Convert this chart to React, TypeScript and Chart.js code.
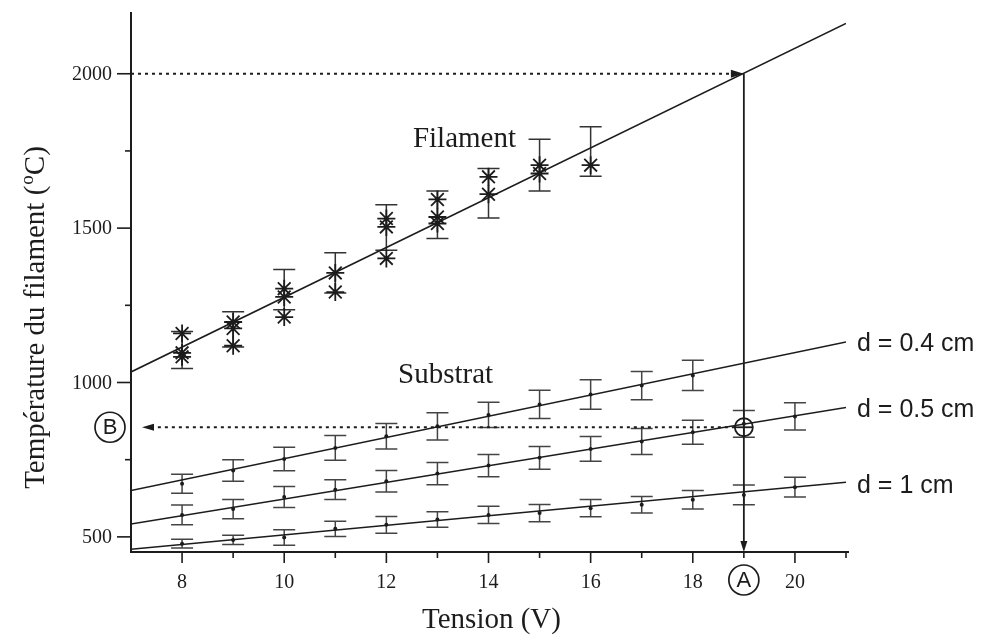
import React, { useEffect, useRef } from 'react';
import { Chart, registerables } from 'chart.js';

Chart.register(...registerables);

// ---------- data ----------
const xMinV = 7;
const xMaxV = 21;
const yMinT = 451;
const yMaxT = 2200;

const xLabelTicks = [8, 10, 12, 14, 16, 18, 20];
const xMinorTicks = [9, 11, 13, 15, 17, 19, 21];
const yLabelTicks = [500, 1000, 1500, 2000];
const yMinorTicks = [750, 1250, 1750];

// Filament: individual measurements (stars)
const starV = [8, 8, 8, 9, 9, 9, 10, 10, 10, 11, 11, 12, 12, 12, 13, 13, 13, 14, 14, 15, 15, 16];
const starT = [1159, 1096, 1083, 1196, 1175, 1119, 1304, 1277, 1212, 1355, 1293, 1531, 1504, 1402, 1593, 1536, 1515, 1666, 1610, 1704, 1677, 1704];

// Filament error bars
const filV = [8, 9, 10, 11, 12, 13, 14, 15, 16];
const filMean = [1105, 1172, 1301, 1355, 1502, 1543, 1613, 1704, 1748];
const filErr = [60, 57, 65, 65, 74, 77, 80, 84, 80];

// Substrat
const d04V = [8, 9, 10, 11, 12, 13, 14, 15, 16, 17, 18];
const d04T = [672, 715, 752, 788, 826, 858, 895, 929, 961, 990, 1023];
const d04Err = [31, 35, 38, 40, 41, 44, 41, 46, 48, 46, 49];

const d05V = [8, 9, 10, 11, 12, 13, 14, 15, 16, 17, 18, 19, 20];
const d05T = [571, 590, 629, 653, 680, 705, 731, 756, 785, 809, 839, 866, 890];
const d05Err = [32, 31, 34, 32, 35, 36, 36, 37, 40, 42, 39, 43, 44];

const d1V = [8, 9, 10, 11, 12, 13, 14, 15, 16, 17, 18, 19, 20];
const d1T = [478, 490, 498, 526, 539, 556, 571, 577, 593, 604, 620, 636, 661];
const d1Err = [14, 15, 25, 25, 27, 25, 28, 28, 28, 27, 30, 32, 32];

// Fitted lines (end points in data units)
const fitV = [7, 21];
const fitFilament = [1034, 2163];
const fitD04 = [650, 1131];
const fitD05 = [542, 919];
const fitD1 = [460, 677];

const lineLabels = ['d = 0.4 cm', 'd = 0.5 cm', 'd = 1 cm'];

// Graphical reading (A / B)
const readV = 19;
const readFilT = 2000;
const readSubT = 855;

// Text labels positions (data units)
const filamentLabel = { text: 'Filament', v: 12.52, t: 1762 };
const substratLabel = { text: 'Substrat', v: 12.23, t: 999 };

const SERIF = '"Liberation Serif", "Times New Roman", serif';
const SANS = '"Liberation Sans", Arial, sans-serif';
const INK = '#1c1c1c';

const pts = (xs: number[], ys: number[]) => xs.map((x, i) => ({ x, y: ys[i] }));

const overlay = {
  id: 'overlay',
  beforeDatasetsDraw(chart: any) {
    const { ctx, chartArea: a, scales } = chart;
    const x = scales.x, y = scales.y;
    ctx.save();
    ctx.beginPath();
    ctx.rect(a.left, a.top, a.right - a.left, a.bottom - a.top);
    ctx.clip();
    const bars = (vs: number[], ms: number[], es: number[], color: string) => {
      ctx.strokeStyle = color;
      ctx.lineWidth = 1.5;
      vs.forEach((v, i) => {
        const px = x.getPixelForValue(v);
        const top = y.getPixelForValue(ms[i] + es[i]);
        const bot = y.getPixelForValue(ms[i] - es[i]);
        ctx.beginPath();
        ctx.moveTo(px, top);
        ctx.lineTo(px, bot);
        ctx.moveTo(px - 11, top);
        ctx.lineTo(px + 11, top);
        ctx.moveTo(px - 11, bot);
        ctx.lineTo(px + 11, bot);
        ctx.stroke();
      });
    };
    bars(filV, filMean, filErr, '#333');
    bars(d04V, d04T, d04Err, '#444');
    bars(d05V, d05T, d05Err, '#444');
    bars(d1V, d1T, d1Err, '#444');
    ctx.restore();
  },
  afterDatasetsDraw(chart: any) {
    const { ctx, chartArea: a, scales } = chart;
    const x = scales.x, y = scales.y;
    ctx.save();
    ctx.fillStyle = INK;
    ctx.strokeStyle = INK;

    // axes
    ctx.lineWidth = 2;
    ctx.beginPath();
    ctx.moveTo(a.left, a.top);
    ctx.lineTo(a.left, a.bottom);
    ctx.lineTo(a.right + 3, a.bottom);
    ctx.stroke();

    // x ticks
    ctx.lineWidth = 1.6;
    xLabelTicks.forEach((v) => {
      const px = x.getPixelForValue(v);
      ctx.beginPath();
      ctx.moveTo(px, a.bottom);
      ctx.lineTo(px, a.bottom + 11);
      ctx.stroke();
    });
    xMinorTicks.forEach((v) => {
      const px = x.getPixelForValue(v);
      ctx.beginPath();
      ctx.moveTo(px, a.bottom - 1);
      ctx.lineTo(px, a.bottom + 6);
      ctx.stroke();
    });
    // y ticks
    yLabelTicks.forEach((t) => {
      const py = y.getPixelForValue(t);
      ctx.beginPath();
      ctx.moveTo(a.left, py);
      ctx.lineTo(a.left - 14, py);
      ctx.stroke();
    });
    yMinorTicks.forEach((t) => {
      const py = y.getPixelForValue(t);
      ctx.beginPath();
      ctx.moveTo(a.left + 1, py);
      ctx.lineTo(a.left - 6, py);
      ctx.stroke();
    });

    // tick labels
    ctx.font = '20px ' + SERIF;
    ctx.textAlign = 'center';
    ctx.textBaseline = 'middle';
    xLabelTicks.forEach((v) => {
      ctx.fillText(String(v), x.getPixelForValue(v), a.bottom + 31);
    });
    ctx.textAlign = 'right';
    yLabelTicks.forEach((t) => {
      ctx.fillText(String(t), a.left - 19, y.getPixelForValue(t) + 1);
    });

    // axis titles
    ctx.font = '29px ' + SERIF;
    ctx.textAlign = 'center';
    ctx.textBaseline = 'alphabetic';
    ctx.fillText('Tension (V)', (a.left + a.right) / 2 + 3, a.bottom + 76);

    const big = '29px ' + SERIF;
    const small = '19px ' + SERIF;
    const p1 = 'Température du filament (';
    const p2 = 'o';
    const p3 = 'C)';
    ctx.font = big;
    const w1 = ctx.measureText(p1).width;
    const w3 = ctx.measureText(p3).width;
    ctx.font = small;
    const w2 = ctx.measureText(p2).width;
    ctx.save();
    ctx.translate(44, 318);
    ctx.rotate(-Math.PI / 2);
    ctx.textAlign = 'left';
    let s = -(w1 + w2 + w3) / 2;
    ctx.font = big;
    ctx.fillText(p1, s, 0);
    s += w1;
    ctx.font = small;
    ctx.fillText(p2, s + 1, -11);
    s += w2 + 1;
    ctx.font = big;
    ctx.fillText(p3, s, 0);
    ctx.restore();

    // in-plot labels
    ctx.font = '29px ' + SERIF;
    ctx.textAlign = 'left';
    ctx.textBaseline = 'alphabetic';
    ctx.fillText(filamentLabel.text, x.getPixelForValue(filamentLabel.v), y.getPixelForValue(filamentLabel.t));
    ctx.fillText(substratLabel.text, x.getPixelForValue(substratLabel.v), y.getPixelForValue(substratLabel.t));

    ctx.font = '25px ' + SANS;
    ctx.textBaseline = 'middle';
    [fitD04, fitD05, fitD1].forEach((f, i) => {
      ctx.fillText(lineLabels[i], a.right + 11, y.getPixelForValue(f[1]) + 2 + i);
    });

    // reading construction
    const pxR = x.getPixelForValue(readV);
    const pyF = y.getPixelForValue(readFilT);
    const pyS = y.getPixelForValue(readSubT);

    // dotted horizontal at filament temperature, arrow to the right
    ctx.lineWidth = 2;
    ctx.setLineDash([3, 4]);
    ctx.beginPath();
    ctx.moveTo(a.left, pyF);
    ctx.lineTo(pxR - 12, pyF);
    ctx.stroke();
    // dotted horizontal at substrate temperature, arrow to the left
    ctx.beginPath();
    ctx.moveTo(pxR - 9, pyS);
    ctx.lineTo(a.left + 23, pyS);
    ctx.stroke();
    ctx.setLineDash([]);

    const tri = (x1: number, y1: number, x2: number, y2: number, x3: number, y3: number) => {
      ctx.beginPath();
      ctx.moveTo(x1, y1);
      ctx.lineTo(x2, y2);
      ctx.lineTo(x3, y3);
      ctx.closePath();
      ctx.fill();
    };
    tri(pxR, pyF, pxR - 13, pyF - 4, pxR - 13, pyF + 4);
    tri(a.left + 11, pyS, a.left + 23, pyS - 3.5, a.left + 23, pyS + 3.5);

    // vertical solid line to x axis with arrow
    ctx.lineWidth = 1.8;
    ctx.beginPath();
    ctx.moveTo(pxR, pyF);
    ctx.lineTo(pxR, a.bottom - 9);
    ctx.stroke();
    tri(pxR, a.bottom, pxR - 3.5, a.bottom - 11, pxR + 3.5, a.bottom - 11);

    // circle-plus on the substrate curve
    ctx.lineWidth = 1.8;
    ctx.beginPath();
    ctx.arc(pxR, pyS, 9, 0, Math.PI * 2);
    ctx.stroke();
    ctx.beginPath();
    ctx.moveTo(pxR - 9, pyS);
    ctx.lineTo(pxR + 9, pyS);
    ctx.stroke();

    // circled letters
    const circled = (cx: number, cy: number, r: number, letter: string) => {
      ctx.lineWidth = 1.7;
      ctx.beginPath();
      ctx.arc(cx, cy, r, 0, Math.PI * 2);
      ctx.stroke();
      ctx.font = '22px ' + SANS;
      ctx.textAlign = 'center';
      ctx.textBaseline = 'middle';
      ctx.fillText(letter, cx, cy + 1);
    };
    circled(pxR, a.bottom + 28, 15, 'A');
    circled(a.left - 21, pyS, 15, 'B');

    ctx.restore();
  },
};

export default function App() {
  const ref = useRef<HTMLCanvasElement | null>(null);

  useEffect(() => {
    if (!ref.current) return;
    const chart = new Chart(ref.current, {
      type: 'scatter',
      data: {
        datasets: [
          { type: 'line', data: pts(fitV, fitFilament), borderColor: INK, borderWidth: 1.7, pointRadius: 0, fill: false } as any,
          { type: 'line', data: pts(fitV, fitD04), borderColor: INK, borderWidth: 1.5, pointRadius: 0, fill: false } as any,
          { type: 'line', data: pts(fitV, fitD05), borderColor: INK, borderWidth: 1.5, pointRadius: 0, fill: false } as any,
          { type: 'line', data: pts(fitV, fitD1), borderColor: INK, borderWidth: 1.5, pointRadius: 0, fill: false } as any,
          {
            type: 'scatter',
            data: pts(starV, starT),
            pointStyle: 'star',
            pointRadius: 9,
            borderColor: INK,
            backgroundColor: INK,
            borderWidth: 1.8,
          } as any,
          {
            type: 'scatter',
            data: [...pts(d04V, d04T), ...pts(d05V, d05T), ...pts(d1V, d1T)],
            pointStyle: 'circle',
            pointRadius: 2,
            borderWidth: 0,
            backgroundColor: INK,
          } as any,
        ],
      },
      options: {
        responsive: false,
        animation: false,
        events: [],
        layout: { padding: { left: 131, right: 140, top: 12, bottom: 87 } },
        scales: {
          x: { type: 'linear', min: xMinV, max: xMaxV, display: false },
          y: { type: 'linear', min: yMinT, max: yMaxT, display: false },
        },
        plugins: { legend: { display: false }, tooltip: { enabled: false } },
      },
      plugins: [overlay],
    });
    return () => chart.destroy();
  }, []);

  return (
    <div style={{ position: 'absolute', left: 0, top: 0, width: 986, height: 639, background: '#fff' }}>
      <canvas ref={ref} width={986} height={639} style={{ display: 'block' }} />
    </div>
  );
}
